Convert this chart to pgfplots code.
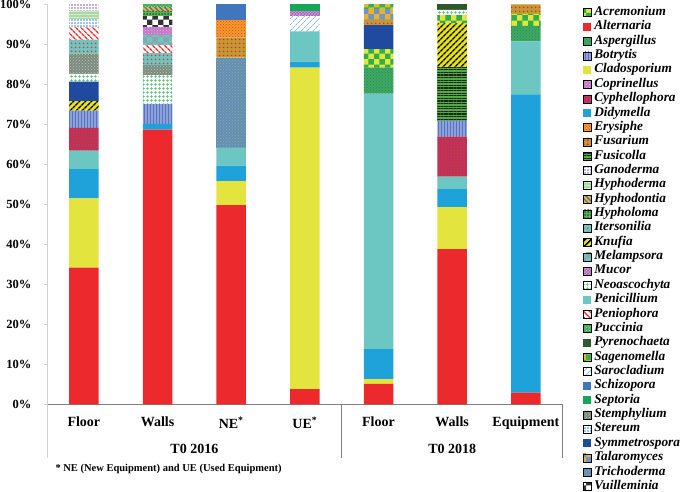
\documentclass[border=0pt]{standalone}
\usepackage{fontspec}
\setmainfont{Liberation Serif}
\usepackage{pgfplots}
\pgfplotsset{compat=1.18}
\usetikzlibrary{patterns,patterns.meta}

\definecolor{cAlt}{HTML}{EC2A2E}
\definecolor{cCla}{HTML}{E3E43D}
\definecolor{cDid}{HTML}{1FA1DA}
\definecolor{cPen}{HTML}{6CC6C1}
\definecolor{cSym}{HTML}{1F4A9F}
\definecolor{cSch}{HTML}{3F76BE}
\definecolor{cSep}{HTML}{12A858}
\definecolor{cPyr}{HTML}{2E5A2A}

\tikzset{
 Acr/.style={fill=cCla, postaction={pattern=checkerboard, pattern color={rgb,255:red,45;green,176;blue,75}}},
 Alt/.style={fill=cAlt},
 Asp/.style={fill={rgb,255:red,61;green,170;blue,88}, postaction={pattern=crosshatch dots, pattern color={rgb,255:red,40;green,130;blue,140}}},
 Bot/.style={fill={rgb,255:red,142;green,162;blue,218}, postaction={pattern={Lines[angle=90,distance=3pt,line width=1pt]}, pattern color={rgb,255:red,90;green,114;blue,194}}},
 Cla/.style={fill=cCla},
 Cop/.style={fill={rgb,255:red,196;green,122;blue,198}, postaction={pattern=crosshatch dots, pattern color={rgb,255:red,230;green,170;blue,230}}},
 Cyp/.style={fill={rgb,255:red,209;green,42;blue,69}, postaction={pattern=crosshatch dots, pattern color={rgb,255:red,106;green,95;blue,168}}},
 Did/.style={fill=cDid},
 Ery/.style={fill={rgb,255:red,243;green,154;blue,42}, postaction={pattern=crosshatch dots, pattern color={rgb,255:red,231;green,64;blue,42}}},
 Fus/.style={fill={rgb,255:red,194;green,154;blue,51}, postaction={pattern={Dots[radius=1.2pt,distance=4pt]}, pattern color={rgb,255:red,228;green,48;blue,42}}},
 Fsc/.style={fill={rgb,255:red,85;green,170;blue,69}, postaction={pattern={Lines[angle=0,distance=2.6pt,line width=1.3pt]}, pattern color={rgb,255:red,26;green,42;blue,26}}},
 Gan/.style={fill=white, postaction={pattern={Dots[radius=0.9pt,distance=3pt]}, pattern color={rgb,255:red,134;green,100;blue,184}}},
 Hde/.style={fill={rgb,255:red,169;green,217;blue,160}, postaction={pattern={Lines[angle=0,distance=3pt,line width=0.8pt]}, pattern color={rgb,255:red,216;green,238;blue,208}}},
 Hdo/.style={fill={rgb,255:red,240;green,176;blue,48}, postaction={pattern={Lines[angle=-45,distance=3.5pt,line width=1.2pt]}, pattern color={rgb,255:red,59;green,111;blue,192}}},
 Hyl/.style={fill={rgb,255:red,93;green,179;blue,90}, postaction={pattern={Dots[radius=1pt,distance=3pt]}, pattern color={rgb,255:red,31;green,90;blue,37}}},
 Ite/.style={fill=cPen, postaction={pattern={Dots[radius=1.1pt,distance=4pt]}, pattern color={rgb,255:red,227;green,58;blue,58}}},
 Knu/.style={fill={rgb,255:red,230;green,226;blue,30}, postaction={pattern={Lines[angle=45,distance=4pt,line width=1.6pt]}, pattern color=black}},
 Mel/.style={fill=cPen, postaction={pattern=checkerboard, pattern color={rgb,255:red,138;green,168;blue,170}}},
 Muc/.style={fill={rgb,255:red,160;green,94;blue,176}, postaction={pattern=crosshatch, pattern color={rgb,255:red,216;green,154;blue,216}}},
 Neo/.style={fill=white, postaction={pattern={Hatch[distance=4pt,line width=0.6pt]}, pattern color={rgb,255:red,76;green,187;blue,106}}},
 Pen/.style={fill=cPen},
 Pnp/.style={fill=white, postaction={pattern={Lines[angle=-45,distance=4pt,line width=1.4pt]}, pattern color=cAlt}},
 Puc/.style={fill={rgb,255:red,61;green,174;blue,90}, postaction={pattern=crosshatch dots, pattern color={rgb,255:red,165;green,227;blue,165}}},
 Pyr/.style={fill=cPyr},
 Sag/.style={fill={rgb,255:red,214;green,194;blue,48}, postaction={pattern=checkerboard, pattern color={rgb,255:red,59;green,174;blue,85}}},
 Sar/.style={fill=white, postaction={pattern={Lines[angle=45,distance=4pt,line width=0.7pt]}, pattern color={rgb,255:red,141;green,182;blue,226}}},
 Sch/.style={fill=cSch},
 Sep/.style={fill=cSep},
 Ste/.style={fill={rgb,255:red,126;green,140;blue,128}, postaction={pattern=crosshatch dots, pattern color={rgb,255:red,184;green,200;blue,184}}},
 Str/.style={fill=white, postaction={pattern={Dots[radius=0.8pt,distance=3pt]}, pattern color={rgb,255:red,60;green,139;blue,224}}},
 Sym/.style={fill=cSym},
 Tal/.style={fill={rgb,255:red,232;green,178;blue,53}, postaction={pattern=checkerboard, pattern color={rgb,255:red,112;green,148;blue,196}}},
 Tri/.style={fill={rgb,255:red,92;green,144;blue,194}, postaction={pattern=crosshatch dots, pattern color={rgb,255:red,178;green,164;blue,90}}},
 Vui/.style={fill=white, postaction={pattern=checkerboard, pattern color={rgb,255:red,51;green,51;blue,51}}},
}
\pgfplotsset{sq legend/.style={legend image code/.code={\path[##1,draw=none] (0pt,-4pt) rectangle (8pt,4pt);}}}

% one series: style, then values for Floor16, Walls16, NE, UE, Floor18, Walls18, Equipment
\newcommand\bars[8]{\addplot[#1,draw=none,forget plot] coordinates {(0,#2) (1,#3) (2,#4) (3,#5) (4,#6) (5,#7) (6,#8)};}
\newcommand\leg[2]{\addlegendimage{sq legend,#1}\addlegendentry{#2}}

\begin{document}
\begin{tikzpicture}
\begin{axis}[name=ax, scale only axis, width=515.7pt, height=400pt,
  ybar stacked, bar width=29.5pt,
  xmin=-0.5, xmax=6.5, ymin=0, ymax=100,
  xtick={0,...,6},
  xticklabels={Floor,Walls,NE\textsuperscript{*},UE\textsuperscript{*},Floor,Walls,Equipment},
  ytick={0,10,...,100},
  yticklabels={0\%,10\%,20\%,30\%,40\%,50\%,60\%,70\%,80\%,90\%,100\%},
  axis x line*=bottom, axis y line*=left,
  x axis line style={draw={rgb,255:red,128;green,128;blue,128}, line width=0.8pt},
  y axis line style={draw={rgb,255:red,210;green,210;blue,210}, line width=0.8pt},
  xtick style={draw=none},
  ytick style={draw={rgb,255:red,210;green,210;blue,210}},
  major tick length=3pt, tick align=outside,
  yticklabel style={font=\fontsize{12.5}{15}\selectfont\bfseries, xshift=-9pt},
  xticklabel style={font=\fontsize{14}{16}\selectfont\bfseries, yshift=-6pt},
  clip=false,
  legend style={at={(1,1)}, anchor=north west, xshift=20pt, yshift=-1pt,
    draw=none, fill=none, inner sep=0pt, row sep=0pt,
    font=\fontsize{13.3}{14}\selectfont\bfseries\itshape,
    nodes={inner ysep=0pt, inner xsep=3pt, text height=10pt, text depth=4.36pt}},
  legend cell align=left,
]
\leg{Acr}{Acremonium}
\leg{Alt}{Alternaria}
\leg{Asp}{Aspergillus}
\leg{Bot}{Botrytis}
\leg{Cla}{Cladosporium}
\leg{Cop}{Coprinellus}
\leg{Cyp}{Cyphellophora}
\leg{Did}{Didymella}
\leg{Ery}{Erysiphe}
\leg{Fus}{Fusarium}
\leg{Fsc}{Fusicolla}
\leg{Gan}{Ganoderma}
\leg{Hde}{Hyphoderma}
\leg{Hdo}{Hyphodontia}
\leg{Hyl}{Hypholoma}
\leg{Ite}{Itersonilia}
\leg{Knu}{Knufia}
\leg{Mel}{Melampsora}
\leg{Muc}{Mucor}
\leg{Neo}{Neoascochyta}
\leg{Pen}{Penicillium}
\leg{Pnp}{Peniophora}
\leg{Puc}{Puccinia}
\leg{Pyr}{Pyrenochaeta}
\leg{Sag}{Sagenomella}
\leg{Sar}{Sarocladium}
\leg{Sch}{Schizopora}
\leg{Sep}{Septoria}
\leg{Ste}{Stemphylium}
\leg{Str}{Stereum}
\leg{Sym}{Symmetrospora}
\leg{Tal}{Talaromyces}
\leg{Tri}{Trichoderma}
\leg{Vui}{Vuilleminia}

\bars{Alt}{34.2}{68.7}{49.8}{3.8}{5.1}{38.8}{2.9}
\bars{Cla}{17.3}{0}{6.0}{80.4}{1.2}{10.5}{0}
\bars{Did}{7.3}{1.4}{3.9}{1.5}{7.5}{4.5}{74.6}
\bars{Pen}{4.6}{0}{4.5}{7.5}{63.9}{3.1}{13.2}
\bars{Cyp}{5.7}{0}{0}{0}{0}{10.0}{0}
\bars{Bot}{4.3}{5.0}{0}{0}{0}{4.0}{0}
\bars{Fsc}{0}{0}{0}{0}{0}{13.2}{0}
\bars{Knu}{2.4}{0}{0}{0}{0}{11.1}{0}
\bars{Asp}{0}{0}{0}{0}{6.5}{0}{3.9}
\bars{Acr}{0}{0}{0}{0}{4.6}{2.1}{3.0}
\bars{Sym}{4.9}{0}{0}{0}{6.0}{0}{0}
\bars{Neo}{1.9}{7.2}{0}{0}{0}{1.3}{0}
\bars{Ste}{5.1}{2.5}{0}{0}{0}{0}{0}
\bars{Ite}{3.4}{3.0}{0}{0}{0}{0}{0}
\bars{Pnp}{3.2}{2.0}{0}{0}{0}{0}{0}
\bars{Mel}{0}{2.5}{0}{0}{0}{0}{0}
\bars{Sar}{0}{0}{0}{3.9}{0}{0}{0}
\bars{Cop}{0}{2.1}{0}{0}{0}{0}{0}
\bars{Muc}{0}{0}{0}{1.2}{0}{0}{0}
\bars{Vui}{0}{2.6}{0}{0}{0}{0}{0}
\bars{Hyl}{0}{1.2}{0}{0}{0}{0}{0}
\bars{Hdo}{0}{1.0}{0}{0}{0}{0}{0}
\bars{Puc}{0}{0.8}{0}{0}{0}{0}{0}
\bars{Pyr}{0}{0}{0}{0}{0}{1.4}{0}
\bars{Str}{2.0}{0}{0}{0}{0}{0}{0}
\bars{Hde}{1.9}{0}{0}{0}{0}{0}{0}
\bars{Gan}{1.8}{0}{0}{0}{0}{0}{0}
\bars{Tri}{0}{0}{22.5}{0}{0}{0}{0}
\bars{Fus}{0}{0}{5.0}{0}{1.3}{0}{2.4}
\bars{Tal}{0}{0}{0}{0}{2.7}{0}{0}
\bars{Sag}{0}{0}{0}{0}{1.2}{0}{0}
\bars{Ery}{0}{0}{4.4}{0}{0}{0}{0}
\bars{Sch}{0}{0}{3.9}{0}{0}{0}{0}
\bars{Sep}{0}{0}{0}{1.7}{0}{0}{0}

\draw[draw={rgb,255:red,210;green,210;blue,210}, line width=0.8pt] (axis cs:-0.5,0) -- ++(0pt,-54pt);
\draw[draw={rgb,255:red,128;green,128;blue,128}, line width=0.8pt] (axis cs:3.5,0) -- ++(0pt,-54pt);
\draw[draw={rgb,255:red,128;green,128;blue,128}, line width=0.8pt] (axis cs:6.5,0) -- ++(0pt,-54pt);
\node[font=\fontsize{14}{16}\selectfont\bfseries, yshift=-45pt] at (axis cs:1.5,0) {T0 2016};
\node[font=\fontsize{14}{16}\selectfont\bfseries, yshift=-45pt] at (axis cs:5,0) {T0 2018};
\node[font=\fontsize{10.5}{12}\selectfont\bfseries, anchor=west, xshift=5pt, yshift=-65pt] at (axis cs:-0.5,0) {* NE (New Equipment) and UE (Used Equipment)};
\end{axis}
\pgfresetboundingbox
\path ([xshift=-47pt,yshift=-86.7pt]ax.south west) rectangle ++(685pt,491pt);
\end{tikzpicture}
\end{document}
